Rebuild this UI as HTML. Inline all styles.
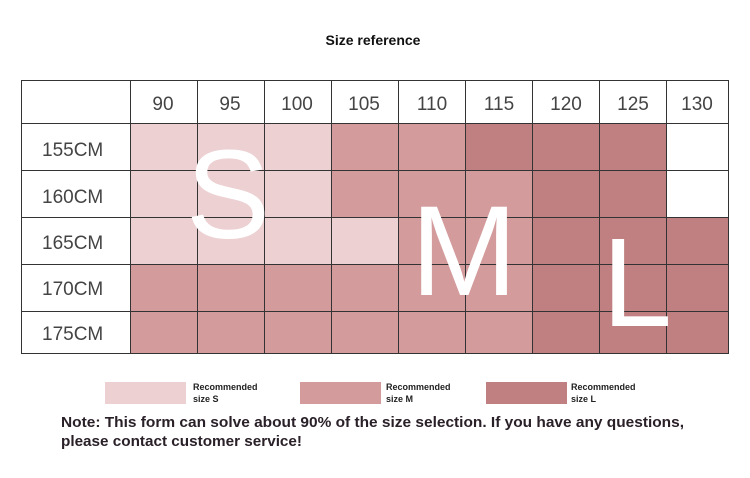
<!DOCTYPE html>
<html><head><meta charset="utf-8"><style>
html,body{margin:0;padding:0;background:#fff;width:750px;height:478px;overflow:hidden}
svg{display:block}
</style></head><body>
<svg width="750" height="478" viewBox="0 0 750 478" xmlns="http://www.w3.org/2000/svg">
<text x="373" y="45" text-anchor="middle" font-family="Liberation Sans Narrow, Liberation Sans, sans-serif" font-weight="bold" font-size="14" fill="#111">Size reference</text>
<g stroke="none">
<rect x="130" y="123" width="201" height="47" fill="#ecd0d2"/>
<rect x="331" y="123" width="135" height="47" fill="#d39b9c"/>
<rect x="466" y="123" width="201" height="47" fill="#c07f80"/>
<rect x="130" y="170" width="201" height="48" fill="#ecd0d2"/>
<rect x="331" y="170" width="202" height="48" fill="#d39b9c"/>
<rect x="533" y="170" width="134" height="48" fill="#c07f80"/>
<rect x="130" y="218" width="269" height="46" fill="#ecd0d2"/>
<rect x="399" y="218" width="134" height="46" fill="#d39b9c"/>
<rect x="533" y="218" width="196" height="46" fill="#c07f80"/>
<rect x="130" y="264" width="403" height="90" fill="#d39b9c"/>
<rect x="533" y="264" width="196" height="90" fill="#c07f80"/>
</g>
<g stroke="#333" stroke-width="1" fill="none">
<rect x="21.5" y="80.5" width="707" height="273"/>
<line x1="21" y1="123.5" x2="729" y2="123.5"/>
<line x1="21" y1="170.5" x2="729" y2="170.5"/>
<line x1="21" y1="217.5" x2="729" y2="217.5"/>
<line x1="21" y1="264.5" x2="729" y2="264.5"/>
<line x1="21" y1="311.5" x2="729" y2="311.5"/>
<line x1="130.5" y1="80" x2="130.5" y2="354"/>
<line x1="197.5" y1="80" x2="197.5" y2="354"/>
<line x1="264.5" y1="80" x2="264.5" y2="354"/>
<line x1="331.5" y1="80" x2="331.5" y2="354"/>
<line x1="398.5" y1="80" x2="398.5" y2="354"/>
<line x1="465.5" y1="80" x2="465.5" y2="354"/>
<line x1="532.5" y1="80" x2="532.5" y2="354"/>
<line x1="599.5" y1="80" x2="599.5" y2="354"/>
<line x1="666.5" y1="80" x2="666.5" y2="354"/>
</g>
<g font-family="Liberation Sans, sans-serif" font-size="19" fill="#444" text-anchor="middle">
<text x="163" y="110">90</text><text x="230" y="110">95</text><text x="297" y="110">100</text>
<text x="364" y="110">105</text><text x="432" y="110">110</text><text x="499" y="110">115</text>
<text x="566" y="110">120</text><text x="633" y="110">125</text><text x="697" y="110">130</text>
</g>
<g font-family="Liberation Sans, sans-serif" font-size="19" fill="#444">
<text x="42" y="156">155CM</text><text x="42" y="203">160CM</text><text x="42" y="249">165CM</text>
<text x="42" y="295">170CM</text><text x="42" y="340">175CM</text>
</g>
<g font-family="Liberation Sans, sans-serif" fill="#fff" text-anchor="middle">
<text x="228" y="238" font-size="126">S</text>
<text x="464" y="295" font-size="128">M</text>
<text x="637" y="326" font-size="126">L</text>
</g>
<rect x="105" y="382" width="81" height="22" fill="#ecd0d2"/>
<rect x="300" y="382" width="81" height="22" fill="#d39b9c"/>
<rect x="486" y="382" width="81" height="22" fill="#c07f80"/>
<g font-family="Liberation Sans Narrow, Liberation Sans, sans-serif" font-weight="bold" font-size="9" fill="#222">
<text x="193" y="390">Recommended</text><text x="193" y="402">size S</text>
<text x="386" y="390">Recommended</text><text x="386" y="402">size M</text>
<text x="571" y="390">Recommended</text><text x="571" y="402">size L</text>
</g>
<g font-family="Liberation Sans Narrow, Liberation Sans, sans-serif" font-weight="bold" font-size="15" fill="#2a2028">
<text x="61" y="427" textLength="623" lengthAdjust="spacingAndGlyphs">Note: This form can solve about 90% of the size selection. If you have any questions,</text>
<text x="61" y="446" textLength="241" lengthAdjust="spacingAndGlyphs">please contact customer service!</text>
</g>
</svg>
</body></html>
